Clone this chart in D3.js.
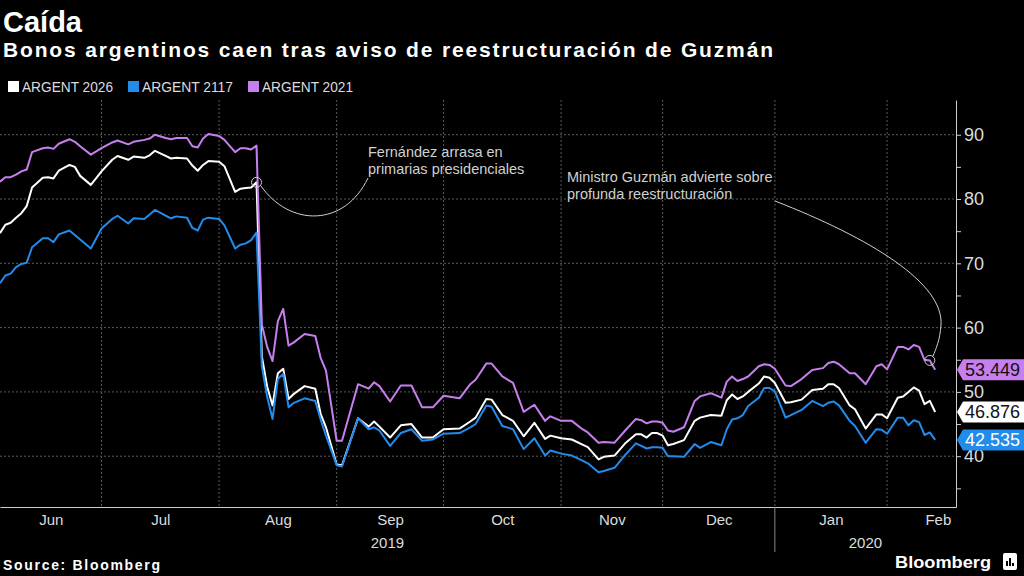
<!DOCTYPE html>
<html>
<head>
<meta charset="utf-8">
<script src="https://cdn.jsdelivr.net/npm/d3@7"></script>
<style>
  body { margin: 0; background: #000; }
  #wrapper { width: 1024px; height: 576px; overflow: hidden; }
  text { font-family: "Liberation Sans", Arial, sans-serif; }
</style>
</head>
<body>
<div id="wrapper"></div>
<script>
// trading-day index, counted from Jun 4 2019 (US bond market days)
const days = [0,1,2,3,4,5,6,8,9,10,11,13,14,15,17,19,21,22,24,25,27,28,29,31,32,33,35,36,37,38,39,41,42,44,45,46,47,48,
  49,50,51,52,53,54,55,57,59,60,61,63,64,67,69,70,71,73,75,77,79,81,83,86,88,89,91,92,94,96,98,
  100,102,103,105,107,109,110,112,113,115,117,119,120,121,122,123,124,125,126,128,130,131,133,135,
  136,137,138,139,140,142,143,144,145,147,148,150,152,154,155,156,157,159,160,162,164,165,166,168,169,
  170,171,172,173,174,175]

const argent2026 = [74.7,76.0,76.3,77.1,77.8,78.9,81.8,83.3,83.4,83.2,84.4,85.3,85.0,83.6,82.2,84.3,86.1,86.7,86.1,86.6,
  86.4,86.8,87.5,86.7,86.3,86.4,86.3,85.2,84.4,85.3,85.9,85.8,85.1,81.1,81.6,81.7,81.8,82.6,
  55.5,50.8,47.9,52.9,53.6,48.9,49.7,50.9,50.5,46.6,44.5,38.7,38.6,45.9,44.6,45.4,44.6,42.9,44.8,45.0,42.9,42.9,44.2,
  44.3,45.4,46.0,48.9,48.8,46.4,45.5,43.1,45.2,42.7,43.2,42.8,42.6,41.8,41.4,39.5,39.9,40.1,42.0,43.4,43.4,42.9,43.6,43.6,
  43.2,41.7,41.9,42.5,45.5,46.0,46.4,46.3,48.7,49.6,48.9,49.3,50.0,51.3,52.4,52.2,51.4,48.3,48.4,48.8,50.3,50.5,51.2,51.2,50.6,
  47.9,47.3,44.3,46.5,46.5,45.9,49.1,49.3,50.0,50.7,50.2,48.1,48.6,46.876]

const argent2117 = [66.9,68.1,68.4,69.4,69.9,70.1,72.5,73.9,73.9,73.3,74.5,75.1,74.4,73.7,72.3,75.4,76.9,77.4,76.2,77.0,
  76.9,77.6,78.3,77.4,77.0,77.3,77.1,75.5,75.1,76.8,77.1,76.9,75.9,72.3,72.9,73.1,73.6,74.8,
  54.0,49.2,45.8,52.0,52.8,47.6,48.3,49.0,48.6,45.7,43.2,38.6,38.4,45.9,44.2,44.5,44.0,41.6,43.6,44.2,42.4,42.6,43.5,
  43.6,44.5,45.0,47.9,47.7,44.7,44.2,41.1,42.8,40.1,40.9,40.4,40.1,39.3,38.9,37.5,37.7,38.2,40.2,42.0,41.6,41.2,41.4,41.4,
  41.3,40.0,40.0,39.9,41.9,41.3,42.2,41.7,44.2,45.7,45.9,46.4,47.8,49.1,50.6,50.6,50.1,46.0,46.4,47.2,48.6,47.8,48.3,48.5,47.9,
  45.5,44.7,42.1,44.2,44.1,43.5,46.0,46.0,44.8,45.6,45.3,43.3,43.7,42.535]

const argent2021 = [82.7,83.4,83.4,83.8,84.3,84.6,87.3,87.9,88.0,87.8,88.6,89.3,88.9,88.2,86.9,87.9,88.8,89.1,88.5,88.9,
  89.2,89.4,90.0,89.5,89.3,89.5,89.5,88.2,88.0,89.4,90.1,89.8,89.2,87.3,87.9,87.9,87.7,88.3,
  60.5,57.0,54.8,61.0,62.9,57.2,57.7,59.0,58.7,55.3,53.3,42.4,42.4,51.2,50.5,51.5,50.9,48.5,51.0,51.0,47.6,47.6,49.4,
  49.0,51.2,51.9,54.4,54.4,52.4,51.4,46.9,48.0,45.5,46.2,45.5,45.5,44.2,43.7,42.1,42.2,42.1,44.0,45.8,45.6,45.1,45.4,45.4,
  45.2,44.0,43.8,44.5,48.6,49.3,49.8,49.1,51.6,52.4,51.7,52.0,52.4,54.0,54.3,54.2,53.6,51.0,50.9,52.0,53.4,53.7,54.5,54.7,54.3,
  52.9,52.9,51.2,54.0,54.3,53.5,57.0,57.0,56.6,57.3,57.0,55.0,54.9,53.449]

const seriesNames = ["ARGENT 2026", "ARGENT 2117", "ARGENT 2021"]
const seriesColors = ["#ffffff", "#218ceb", "#c77ff0"]
const labelTextColors = ["#111", "#fff", "#111"]

const months = ["Jun", "Jul", "Aug", "Sep", "Oct", "Nov", "Dec", "Jan", "Feb"]
const monthMidDay = [9.5, 30, 52, 73, 94, 114.5, 134.5, 155.5, 175.5]
const monthStartDay = [19, 41, 63, 83, 105, 124, 145, 166]
const years = ["2019", "2020"]
const yearStartDay = [0, 145]
const yTicks = [35, 40, 45, 50, 55, 60, 65, 70, 75, 80, 85, 90]

const notes = [
  { lines: ["Fernández arrasa en", "primarias presidenciales"], day: 48, series: 0 },
  { lines: ["Ministro Guzmán advierte sobre", "profunda reestructuración"], day: 174, series: 2 },
]

function drawChart() {

  // 1. Access data
  const seriesValues = [argent2026, argent2117, argent2021]
  const dataset = seriesValues.map((vals, i) => ({
    name: seriesNames[i],
    color: seriesColors[i],
    points: days.map((d, j) => ({ day: d, value: vals[j] })),
  }))
  const dayOf = d => d.day
  const valueOf = d => d.value

  // 2. Create chart dimensions
  let dimensions = {
    width: 1024,
    height: 576,
    plotLeft: 0,
    plotRight: 956,
    plotTop: 100,
    plotBottom: 507,
  }

  const wrapper = d3.select("#wrapper")
    .append("svg")
      .attr("width", dimensions.width)
      .attr("height", dimensions.height)
      .style("background", "#000")

  // scales
  const xScale = d3.scaleLinear()
    .domain([0, 178.9])
    .range([dimensions.plotLeft, dimensions.plotRight])

  const yScale = d3.scaleLinear()
    .domain([32.1, 95.4])
    .range([dimensions.plotBottom, dimensions.plotTop])

  // gridlines
  const grid = wrapper.append("g")
    .attr("stroke", "#5a5a5a")
    .attr("stroke-dasharray", "2,2")

  grid.selectAll(".hgrid")
    .data(yTicks.filter(d => d % 10 === 0))
    .enter().append("line")
      .attr("x1", dimensions.plotLeft)
      .attr("x2", dimensions.plotRight)
      .attr("y1", d => yScale(d))
      .attr("y2", d => yScale(d))

  grid.selectAll(".vgrid")
    .data(monthStartDay)
    .enter().append("line")
      .attr("x1", d => xScale(d))
      .attr("x2", d => xScale(d))
      .attr("y1", dimensions.plotTop)
      .attr("y2", dimensions.plotBottom)

  // axes
  const yAxis = wrapper.append("g")
    .attr("transform", `translate(${dimensions.plotRight},0)`)
    .call(d3.axisRight(yScale)
      .tickValues(yTicks)
      .tickSize(5)
      .tickSizeOuter(0)
      .tickPadding(3)
      .tickFormat(d => d % 10 === 0 ? d : ""))
  yAxis.selectAll("path, line").attr("stroke", "#cfcfcf")
  yAxis.selectAll("text")
    .attr("fill", "#dcdcdc")
    .attr("font-size", 18)
    .attr("font-family", "Liberation Sans, Arial, sans-serif")

  const xAxis = wrapper.append("g")
    .attr("transform", `translate(0,${dimensions.plotBottom})`)
    .call(d3.axisBottom(xScale)
      .tickValues(monthMidDay)
      .tickSize(0)
      .tickSizeOuter(0)
      .tickPadding(7)
      .tickFormat((d, i) => months[i]))
  xAxis.select("path").attr("stroke", "#cfcfcf")
  xAxis.selectAll("text")
    .attr("fill", "#dcdcdc")
    .attr("font-size", 15)
    .attr("font-family", "Liberation Sans, Arial, sans-serif")

  const domainEnd = xScale.domain()[1]
  years.forEach((yr, i) => {
    const from = yearStartDay[i]
    const to = i + 1 < yearStartDay.length ? yearStartDay[i + 1] : domainEnd
    wrapper.append("text")
      .attr("x", xScale((from + to) / 2))
      .attr("y", 548)
      .attr("text-anchor", "middle")
      .attr("fill", "#dcdcdc")
      .attr("font-size", 15)
      .text(yr)
    if (i > 0) {
      wrapper.append("line")
        .attr("x1", xScale(from)).attr("x2", xScale(from))
        .attr("y1", dimensions.plotBottom).attr("y2", 552)
        .attr("stroke", "#8a8a8a")
    }
  })

  // lines
  const lineGenerator = d3.line()
    .x(d => xScale(dayOf(d)))
    .y(d => yScale(valueOf(d)))

  wrapper.append("g").selectAll("path")
    .data(dataset)
    .enter().append("path")
      .attr("d", d => lineGenerator(d.points))
      .attr("fill", "none")
      .attr("stroke", d => d.color)
      .attr("stroke-width", 2)
      .attr("stroke-linejoin", "round")

  // annotations
  const noteColor = "#d0d0d0"
  const anchor = n => {
    const p = dataset[n.series].points.find(d => d.day === n.day)
    return [xScale(p.day), yScale(p.value)]
  }

  const [ax, ay] = anchor(notes[0])
  const [bx, by] = anchor(notes[1])
  const textA = { x: 368, y: 157 }
  const textB = { x: 567, y: 182 }

  const pathA = d3.path()
  pathA.moveTo(ax + 4, ay + 3)
  pathA.bezierCurveTo(ax + 33, ay + 45, ax + 88, ay + 45, textA.x, textA.y + 21)
  const pathB = d3.path()
  pathB.moveTo(textB.x + 208, textB.y + 19)
  pathB.bezierCurveTo(870, 238, 944, 283, 941, 325)
  pathB.bezierCurveTo(940, 340, 936, 349, bx + 3, by - 4)

  wrapper.append("g")
    .attr("fill", "none")
    .attr("stroke", noteColor)
    .attr("stroke-width", 1)
    .call(g => g.append("path").attr("d", pathA.toString()))
    .call(g => g.append("path").attr("d", pathB.toString()))
    .call(g => g.append("circle").attr("cx", ax).attr("cy", ay).attr("r", 5))
    .call(g => g.append("circle").attr("cx", bx).attr("cy", by).attr("r", 5))

  ;[textA, textB].forEach((pos, i) => {
    notes[i].lines.forEach((line, j) => {
      wrapper.append("text")
        .attr("x", pos.x)
        .attr("y", pos.y + j * 16.5)
        .attr("fill", noteColor)
        .attr("font-size", 14.5)
        .text(line)
    })
  })

  // end value labels
  const fmt = d3.format(".3f")
  const labels = wrapper.append("g").selectAll("g")
    .data(dataset)
    .enter().append("g")
      .attr("transform", d => `translate(${dimensions.plotRight + 1},${yScale(valueOf(d.points[d.points.length - 1]))})`)
  labels.append("path")
    .attr("d", "M0,0 L6,-10.5 L70,-10.5 L70,10.5 L6,10.5 Z")
    .attr("fill", d => d.color)
  labels.append("text")
    .attr("x", 8)
    .attr("dy", "0.36em")
    .attr("font-size", 18)
    .attr("fill", (d, i) => labelTextColors[i])
    .text(d => fmt(valueOf(d.points[d.points.length - 1])))

  // title and legend
  wrapper.append("text")
    .attr("x", 3).attr("y", 32)
    .attr("fill", "#fff")
    .attr("font-size", 29)
    .attr("font-weight", "bold")
    .text("Caída")

  wrapper.append("text")
    .attr("x", 3).attr("y", 57)
    .attr("fill", "#fff")
    .attr("font-size", 21)
    .attr("font-weight", "bold")
    .attr("textLength", 770)
    .attr("lengthAdjust", "spacing")
    .text("Bonos argentinos caen tras aviso de reestructuración de Guzmán")

  const legend = wrapper.append("g").selectAll("g")
    .data(dataset)
    .enter().append("g")
      .attr("transform", (d, i) => `translate(${8 + i * 120},0)`)
  legend.append("rect")
    .attr("x", 0).attr("y", 81)
    .attr("width", 11).attr("height", 11)
    .attr("fill", d => d.color)
  legend.append("text")
    .attr("x", 14).attr("y", 92)
    .attr("fill", "#dcdcdc")
    .attr("font-size", 14.5)
    .attr("textLength", 91)
    .attr("lengthAdjust", "spacingAndGlyphs")
    .text(d => d.name)

  // footer
  wrapper.append("text")
    .attr("x", 3).attr("y", 570)
    .attr("fill", "#fff")
    .attr("font-size", 14)
    .attr("font-weight", "bold")
    .attr("textLength", 157)
    .attr("lengthAdjust", "spacing")
    .text("Source: Bloomberg")

  wrapper.append("text")
    .attr("x", 895).attr("y", 568)
    .attr("fill", "#fff")
    .attr("font-size", 17)
    .attr("font-weight", "bold")
    .attr("textLength", 96)
    .attr("lengthAdjust", "spacingAndGlyphs")
    .text("Bloomberg")

  const logo = wrapper.append("g").attr("transform", "translate(1003,553)")
  logo.append("rect").attr("width", 14).attr("height", 17).attr("rx", 2).attr("fill", "#fff")
  logo.selectAll(".bar")
    .data([5, 8, 3])
    .enter().append("rect")
      .attr("x", (d, i) => 3 + i * 3)
      .attr("y", d => 13 - d)
      .attr("width", 2)
      .attr("height", d => d)
      .attr("fill", "#000")
}

drawChart()
</script>
</body>
</html>
